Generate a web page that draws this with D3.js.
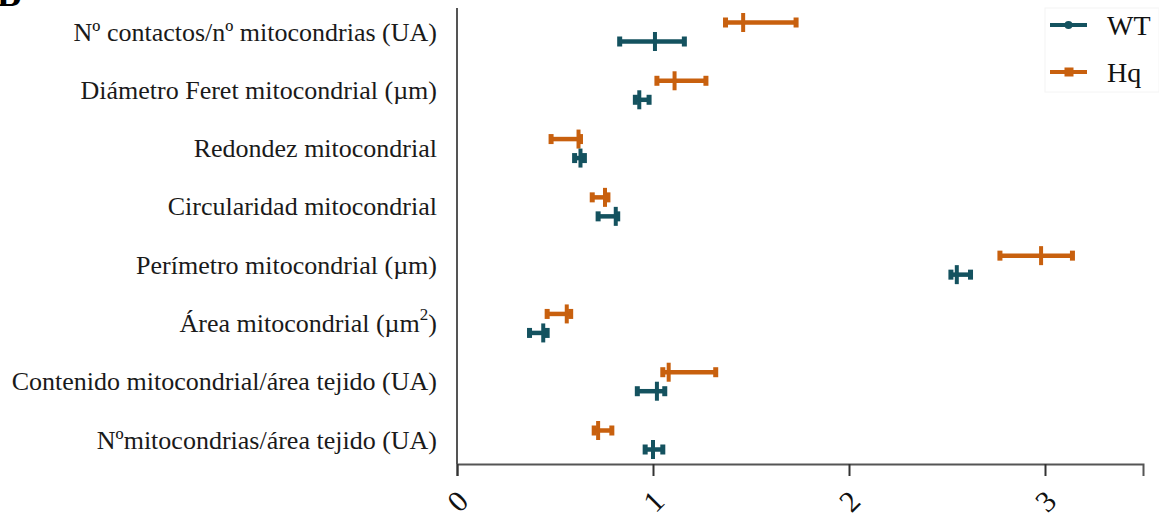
<!DOCTYPE html>
<html>
<head>
<meta charset="utf-8">
<script src="https://cdn.jsdelivr.net/npm/d3@7"></script>
<style>
    body { margin: 0; background: #fff; }
    svg { display: block; font-family: "Liberation Serif", "Times New Roman", serif; }
</style>
</head>
<body>
<div id="chart"></div>
<script>

// categories, top to bottom
const categories = [
    'contactos',
    'feret',
    'redondez',
    'circularidad',
    'perimetro',
    'area',
    'contenido',
    'numero'
]

// value: mean and the two ends of the error bar
const wtMean = [1.01, 0.93, 0.63, 0.81, 2.55, 0.44, 1.02, 1.00]
const wtLow  = [0.83, 0.91, 0.60, 0.72, 2.52, 0.37, 0.92, 0.96]
const wtHigh = [1.16, 0.98, 0.65, 0.82, 2.62, 0.46, 1.06, 1.05]

const hqMean = [1.46, 1.11, 0.62, 0.755, 2.98, 0.56, 1.08, 0.72]
const hqLow  = [1.37, 1.02, 0.48, 0.69, 2.77, 0.46, 1.05, 0.70]
const hqHigh = [1.73, 1.27, 0.63, 0.77, 3.14, 0.58, 1.32, 0.79]

const xTicks = [0, 1, 2, 3]

const width = 1159, height = 520
const margin = { left: 457, top: 8 }

const svg = d3.select('#chart').append('svg')
    .attr('width', width)
    .attr('height', height)

const x = d3.scaleLinear()
    .domain([0, 3.5])
    .range([margin.left, margin.left + 3.5 * 196])

const y = d3.scalePoint()
    .domain(categories)
    .range([32, 440])

// panel letter, mostly cut off at the top
svg.append('text')
    .attr('x', -3)
    .attr('y', 6)
    .attr('font-size', 36)
    .attr('font-weight', 'bold')
    .text('B')

// category labels (the area one needs a superscript)
const labelX = 437
const labels = svg.append('g')
    .attr('font-size', 26)
    .attr('fill', '#1a1a1a')
    .attr('text-anchor', 'end')

const simpleLabels = {
    contactos: 'Nº contactos/nº mitocondrias (UA)',
    feret: 'Diámetro Feret mitocondrial (µm)',
    redondez: 'Redondez mitocondrial',
    circularidad: 'Circularidad mitocondrial',
    perimetro: 'Perímetro mitocondrial (µm)',
    contenido: 'Contenido mitocondrial/área tejido (UA)',
    numero: 'Nºmitocondrias/área tejido (UA)'
}

categories.forEach(c => {
    const t = labels.append('text')
        .attr('x', labelX)
        .attr('y', y(c))
        .attr('dy', '0.33em')
    if (c === 'area') {
        t.append('tspan').text('Área mitocondrial (µm')
        t.append('tspan').attr('font-size', 17).attr('dy', '-0.7em').text('2')
        t.append('tspan').attr('dy', '0.45em').text(')')
    } else {
        t.text(simpleLabels[c])
    }
})

// axes
const axisColor = '#555'
svg.append('line')
    .attr('x1', x(0)).attr('x2', x(0))
    .attr('y1', margin.top).attr('y2', 464)
    .attr('stroke', axisColor)
    .attr('stroke-width', 2)

const xAxis = svg.append('g')
    .attr('transform', 'translate(0,464)')
    .call(d3.axisBottom(x).tickValues(xTicks).tickSize(12).tickFormat(d3.format('d')))

xAxis.select('.domain').attr('stroke', axisColor).attr('stroke-width', 2)
xAxis.selectAll('.tick line').attr('stroke', '#333').attr('stroke-width', 2)
xAxis.selectAll('.tick text')
    .attr('font-family', '"Liberation Serif", serif')
    .attr('font-size', 30)
    .attr('fill', '#111')
    .attr('y', 0)
    .attr('dy', 0)
    .attr('text-anchor', 'middle')
    .attr('transform', 'translate(0,37) rotate(-45)')
    .attr('dominant-baseline', 'central')

// error bars
const series = [
    { name: 'Hq', color: '#c8600e', mean: hqMean, low: hqLow, high: hqHigh, offset: -9.5, marker: 'square' },
    { name: 'WT', color: '#14525f', mean: wtMean, low: wtLow, high: wtHigh, offset: 9.5, marker: 'circle' }
]

series.forEach(s => {
    const g = svg.append('g').attr('fill', s.color).attr('stroke', s.color)
    categories.forEach((c, i) => {
        const cy = y(c) + s.offset
        g.append('line')
            .attr('x1', x(s.low[i])).attr('x2', x(s.high[i]))
            .attr('y1', cy).attr('y2', cy)
            .attr('stroke-width', 4.5)
        ;[s.low[i], s.high[i]].forEach(v => {
            g.append('rect')
                .attr('x', x(v) - 2.5).attr('y', cy - 5)
                .attr('width', 5).attr('height', 10)
                .attr('stroke', 'none')
        })
        g.append('line')
            .attr('x1', x(s.mean[i])).attr('x2', x(s.mean[i]))
            .attr('y1', cy - 9.5).attr('y2', cy + 9.5)
            .attr('stroke-width', 4)
    })
})

// legend
const legend = svg.append('g').attr('transform', 'translate(1045,8)')
legend.append('rect')
    .attr('width', 114).attr('height', 84)
    .attr('fill', '#fff')
    .attr('stroke', '#f4f4f4')

const legendItems = [series[1], series[0]]
legendItems.forEach((s, i) => {
    const ly = 17 + i * 47
    legend.append('line')
        .attr('x1', 5).attr('x2', 42)
        .attr('y1', ly).attr('y2', ly)
        .attr('stroke', s.color).attr('stroke-width', 4)
    if (s.marker === 'circle') {
        legend.append('circle').attr('cx', 23.5).attr('cy', ly).attr('r', 4).attr('fill', s.color)
    } else {
        legend.append('rect').attr('x', 19.5).attr('y', ly - 4.5).attr('width', 9).attr('height', 9).attr('fill', s.color)
    }
    legend.append('text')
        .attr('x', 62).attr('y', ly)
        .attr('dy', '0.35em')
        .attr('font-size', 28)
        .attr('fill', '#111')
        .text(s.name)
})

</script>
</body>
</html>
